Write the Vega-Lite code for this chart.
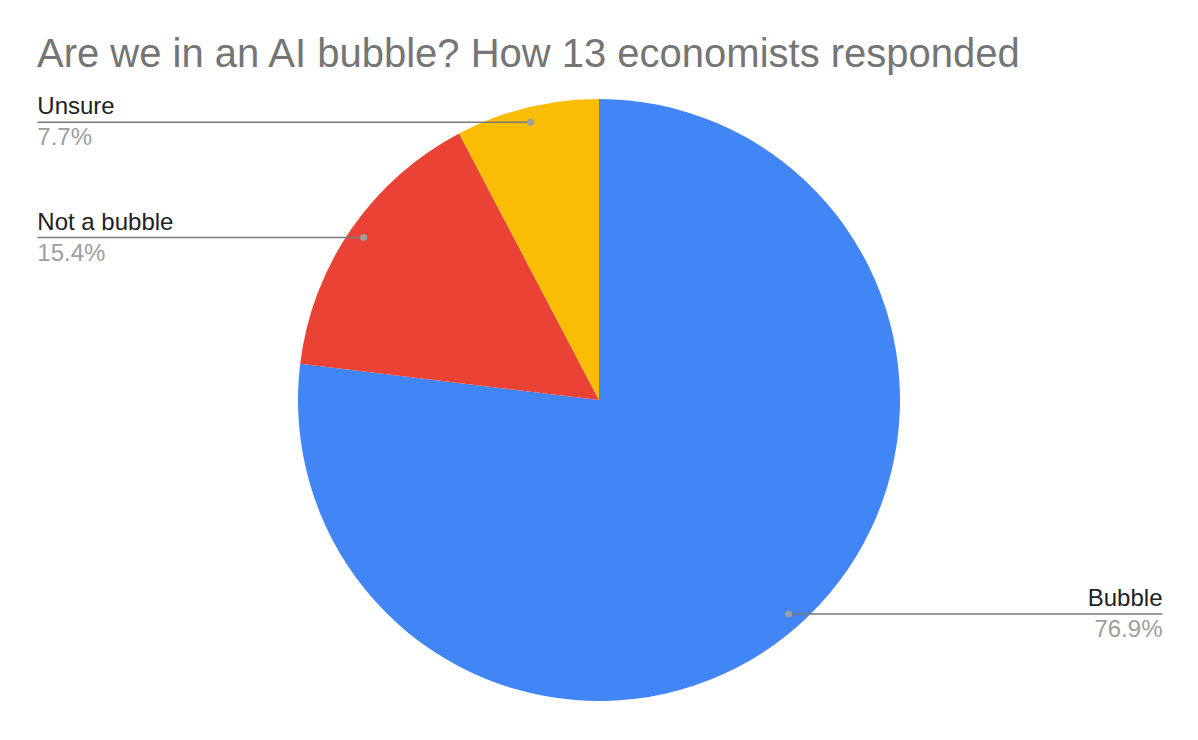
{
  "$schema": "https://vega.github.io/schema/vega-lite/v6.json",
  "autosize": {"type": "none"},
  "padding": {"top": 60, "left": 0, "right": 0, "bottom": 0},
  "width": 1198,
  "height": 680,
  "background": "#ffffff",
  "config": {"view": {"stroke": null}},
  "title": {
    "text": "Are we in an AI bubble? How 13 economists responded",
    "anchor": "start",
    "frame": "group",
    "dx": 37,
    "offset": -47,
    "baseline": "alphabetic",
    "font": "Liberation Sans",
    "fontSize": 40,
    "fontWeight": "normal",
    "color": "#757575"
  },
  "data": {
    "values": [
      {"category": "Bubble", "value": 10},
      {"category": "Not a bubble", "value": 2},
      {"category": "Unsure", "value": 1}
    ]
  },
  "layer": [
    {
      "mark": {"type": "arc", "outerRadius": 301},
      "encoding": {
        "theta": {"field": "value", "type": "quantitative", "stack": true},
        "order": {"field": "category", "type": "nominal", "sort": "ascending"},
        "color": {
          "field": "category",
          "type": "nominal",
          "scale": {"domain": ["Bubble", "Not a bubble", "Unsure"], "range": ["#4285F4", "#EA4335", "#FBBC04"]},
          "legend": null
        }
      }
    },
    {
      "transform": [
        {"joinaggregate": [{"op": "sum", "field": "value", "as": "total"}]},
        {"window": [{"op": "sum", "field": "value", "as": "cum"}], "sort": [{"field": "category"}], "frame": [null, 0]},
        {"calculate": "(datum.cum - datum.value / 2) / datum.total * 2 * PI", "as": "mid"},
        {"calculate": "0.95 * sin(datum.mid)", "as": "px"},
        {"calculate": "0.95 * cos(datum.mid)", "as": "py"},
        {"calculate": "datum.px < 0 ? -1.866 : 1.872", "as": "lx"},
        {"calculate": "format(datum.value / datum.total, '.1%')", "as": "pct"}
      ],
      "layer": [
        {
          "mark": {"type": "rule", "color": "#7a7a7a", "strokeWidth": 1.5},
          "encoding": {
            "x": {"field": "lx", "type": "quantitative", "scale": {"domain": [-1.99, 1.99], "zero": false, "nice": false}, "axis": null},
            "x2": {"field": "px"},
            "y": {"field": "py", "type": "quantitative", "scale": {"domain": [-1.1296, 1.1296], "zero": false, "nice": false}, "axis": null}
          }
        },
        {
          "mark": {"type": "point", "filled": true, "size": 50, "color": "#9e9e9e", "opacity": 1},
          "encoding": {
            "x": {"field": "px", "type": "quantitative"},
            "y": {"field": "py", "type": "quantitative"}
          }
        },
        {
          "transform": [{"filter": "datum.px < 0"}],
          "layer": [
            {
              "mark": {"type": "text", "align": "left", "baseline": "alphabetic", "dy": -8, "font": "Liberation Sans", "fontSize": 24, "color": "#222222"},
              "encoding": {
                "x": {"field": "lx", "type": "quantitative"},
                "y": {"field": "py", "type": "quantitative"},
                "text": {"field": "category"}
              }
            },
            {
              "mark": {"type": "text", "align": "left", "baseline": "alphabetic", "dy": 23, "font": "Liberation Sans", "fontSize": 24, "color": "#9e9e9e"},
              "encoding": {
                "x": {"field": "lx", "type": "quantitative"},
                "y": {"field": "py", "type": "quantitative"},
                "text": {"field": "pct"}
              }
            }
          ]
        },
        {
          "transform": [{"filter": "datum.px >= 0"}],
          "layer": [
            {
              "mark": {"type": "text", "align": "right", "baseline": "alphabetic", "dy": -8, "font": "Liberation Sans", "fontSize": 24, "color": "#222222"},
              "encoding": {
                "x": {"field": "lx", "type": "quantitative"},
                "y": {"field": "py", "type": "quantitative"},
                "text": {"field": "category"}
              }
            },
            {
              "mark": {"type": "text", "align": "right", "baseline": "alphabetic", "dy": 23, "font": "Liberation Sans", "fontSize": 24, "color": "#9e9e9e"},
              "encoding": {
                "x": {"field": "lx", "type": "quantitative"},
                "y": {"field": "py", "type": "quantitative"},
                "text": {"field": "pct"}
              }
            }
          ]
        }
      ]
    }
  ]
}
